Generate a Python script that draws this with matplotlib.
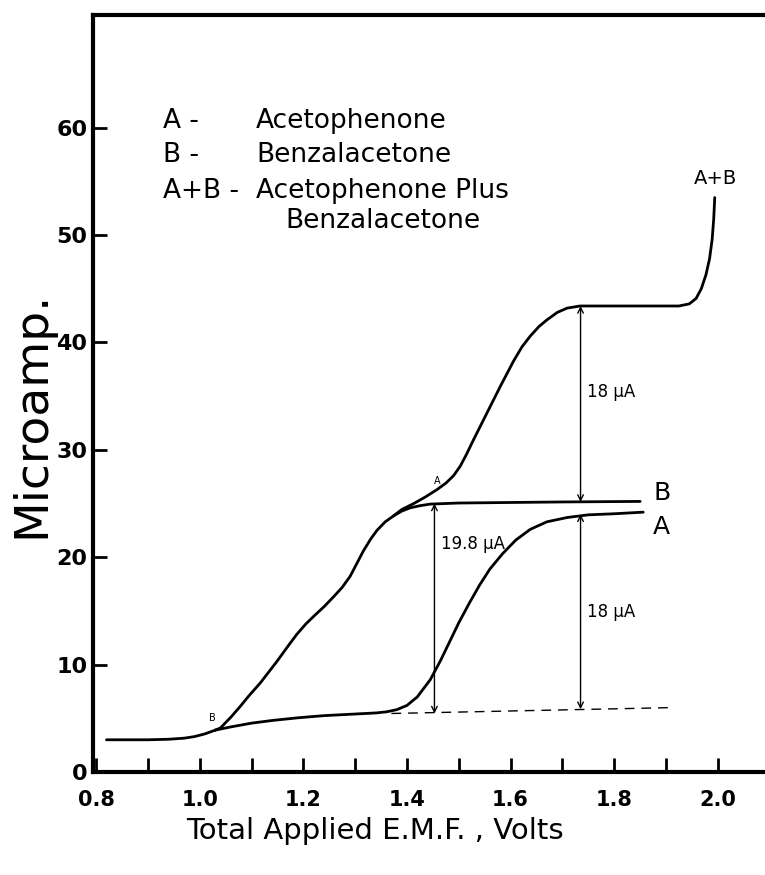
import numpy as np
import matplotlib.pyplot as plt

# shared start of all curves
base_x = [0.82, 0.86, 0.90, 0.94, 0.97, 0.99, 1.01, 1.03]
base_y = [3.0, 3.0, 3.0, 3.05, 3.15, 3.3, 3.55, 3.9]

# curve A (acetophenone)
a_x = [1.03, 1.06, 1.10, 1.14, 1.19, 1.24, 1.30, 1.34, 1.36, 1.38, 1.40, 1.42,
       1.445, 1.465, 1.483, 1.50, 1.52, 1.54, 1.56, 1.584, 1.61, 1.638, 1.67,
       1.709, 1.75, 1.80, 1.856]
a_y = [3.9, 4.2, 4.55, 4.8, 5.05, 5.25, 5.4, 5.5, 5.6, 5.8, 6.2, 7.0,
       8.6, 10.4, 12.2, 13.9, 15.7, 17.4, 18.9, 20.3, 21.6, 22.6, 23.3,
       23.7, 23.95, 24.05, 24.2]

# curve B (benzalacetone)
b_x = [1.03, 1.04, 1.06, 1.078, 1.095, 1.117, 1.149, 1.17, 1.187, 1.205, 1.22,
       1.24, 1.258, 1.275, 1.29, 1.303, 1.316, 1.33, 1.342, 1.358, 1.374, 1.39,
       1.406, 1.425, 1.445, 1.50, 1.60, 1.70, 1.85]
b_y = [3.9, 4.1, 5.1, 6.1, 7.1, 8.3, 10.3, 11.7, 12.8, 13.8, 14.5,
       15.4, 16.3, 17.2, 18.2, 19.4, 20.6, 21.7, 22.5, 23.3, 23.85, 24.3,
       24.6, 24.8, 24.95, 25.05, 25.1, 25.15, 25.2]

# curve A+B (mixture), leaves B near 1.38 V
ab_x = [1.374, 1.39, 1.413, 1.435, 1.458, 1.475, 1.49, 1.503, 1.515, 1.528,
        1.554, 1.58, 1.606, 1.622, 1.638, 1.655, 1.67, 1.69, 1.709, 1.734, 1.80,
        1.87, 1.925, 1.945, 1.958, 1.968, 1.977, 1.984, 1.989, 1.992, 1.994]
ab_y = [23.85, 24.45, 25.0, 25.6, 26.3, 26.9, 27.6, 28.5, 29.6, 30.9,
        33.4, 35.9, 38.3, 39.6, 40.6, 41.5, 42.1, 42.8, 43.2, 43.4, 43.4,
        43.4, 43.4, 43.6, 44.1, 45.0, 46.3, 47.8, 49.6, 51.5, 53.5]

# residual current line
resid_x = [1.37, 1.914]
resid_y = [5.45, 6.0]

# wave heights (x, bottom, top, label, label_y)
waves = [(1.453, 5.45, 25.0, '19.8 µA', 21.2),
         (1.735, 5.85, 24.0, '18 µA', 14.9),
         (1.735, 25.15, 43.4, '18 µA', 35.4)]

xticks = [0.8, 0.9, 1.0, 1.1, 1.2, 1.3, 1.4, 1.5, 1.6, 1.7, 1.8, 1.9, 2.0]
xlabels = ['0.8', '', '1.0', '', '1.2', '', '1.4', '', '1.6', '', '1.8', '', '2.0']
yticks = [0, 10, 20, 30, 40, 50, 60]

fig = plt.figure(figsize=(7.65, 8.75), dpi=100)
ax = fig.add_axes([93 / 765, 103 / 875, 1 - 93 / 765, 757 / 875])

lw = 2.0
ax.plot(base_x, base_y, color='black', lw=lw, solid_capstyle='round')
ax.plot(a_x, a_y, color='black', lw=lw, solid_capstyle='round')
ax.plot(b_x, b_y, color='black', lw=lw, solid_capstyle='round')
ax.plot(ab_x, ab_y, color='black', lw=lw, solid_capstyle='round')
ax.plot(resid_x, resid_y, color='black', lw=1.0, dashes=(7, 5))

for x, lo, hi, txt, ty in waves:
    ax.annotate('', xy=(x, hi), xytext=(x, lo),
                arrowprops=dict(arrowstyle='<->', color='black', lw=1.0,
                                shrinkA=0, shrinkB=0))
    ax.text(x + 0.012, ty, txt, fontsize=12, va='center', ha='left')

# curve labels
ax.text(1.875, 26.0, 'B', fontsize=18, ha='left', va='center')
ax.text(1.875, 22.8, 'A', fontsize=18, ha='left', va='center')
ax.text(1.995, 55.3, 'A+B', fontsize=14, ha='center', va='center')
ax.text(1.024, 5.0, 'B', fontsize=7, ha='center', va='center')
ax.text(1.458, 27.1, 'A', fontsize=7, ha='center', va='center')

# key
ax.text(0.929, 60.6, 'A -', fontsize=19, va='center')
ax.text(0.929, 57.5, 'B -', fontsize=19, va='center')
ax.text(0.929, 54.1, 'A+B -', fontsize=19, va='center')
ax.text(1.109, 60.6, 'Acetophenone', fontsize=19, va='center')
ax.text(1.109, 57.5, 'Benzalacetone', fontsize=19, va='center')
ax.text(1.109, 54.1, 'Acetophenone Plus', fontsize=19, va='center')
ax.text(1.165, 51.3, 'Benzalacetone', fontsize=19, va='center')

ax.set_xlim(0.794, 2.091)
ax.set_ylim(0, 70.5)
ax.set_xticks(xticks)
ax.set_xticklabels(xlabels, fontsize=15, fontweight='bold')
ax.set_yticks(yticks)
ax.set_yticklabels([str(v) for v in yticks], fontsize=16, fontweight='bold')
ax.tick_params(direction='in', length=10, width=2)
ax.tick_params(axis='x', pad=13)
ax.tick_params(axis='y', pad=4)

ax.spines['right'].set_visible(False)
for s in ['left', 'bottom', 'top']:
    ax.spines[s].set_linewidth(3)

ax.set_ylabel('Microamp.', fontsize=34, va='center')
ax.yaxis.set_label_coords(-0.091, 0.472)
ax.set_xlabel('Total Applied E.M.F. , Volts', fontsize=21, va='center')
ax.xaxis.set_label_coords(0.42, -0.078)

fig.savefig('out.png', dpi=100)
